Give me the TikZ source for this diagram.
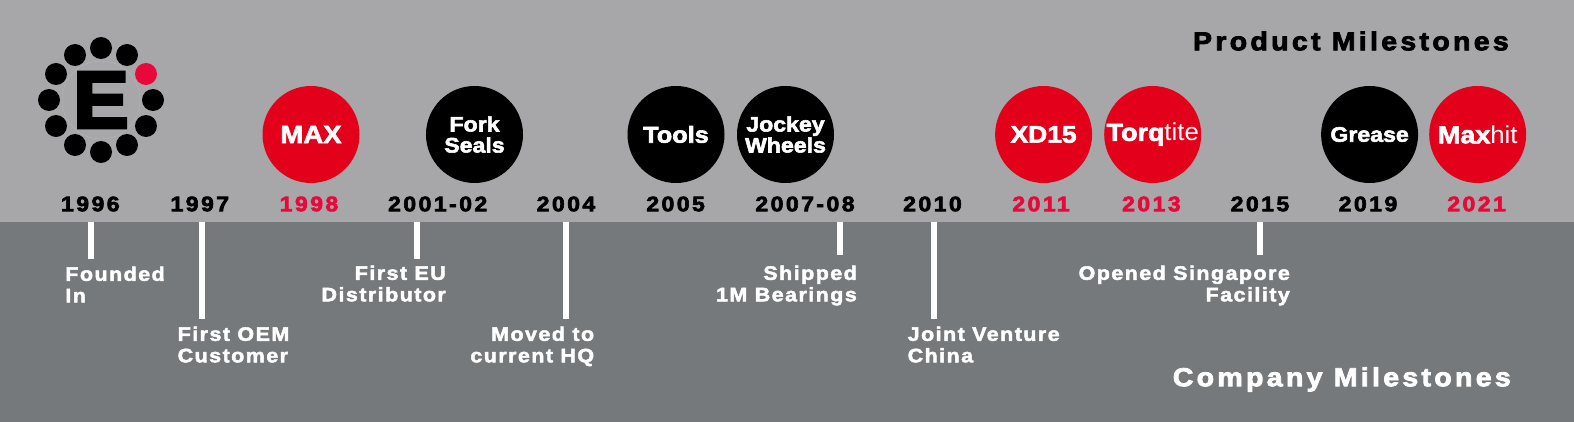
\documentclass[tikz,border=0pt]{standalone}
\usepackage{fontspec}
\setmainfont{Liberation Sans}
\newfontfamily\blackfont{Liberation Sans Bold}[FakeBold=2.6,FakeStretch=1.1]
\newfontfamily\logofont{Liberation Sans Bold}[FakeBold=4,FakeStretch=1.03]
\newfontfamily\yearfont{Liberation Sans Bold}[FakeBold=3,FakeStretch=1.1,LetterSpace=11.5]
\newfontfamily\notefont{Liberation Sans Bold}[FakeBold=2.4,FakeStretch=1.1,LetterSpace=7.5]
\newfontfamily\titlefont{Liberation Sans Bold}[FakeBold=3,FakeStretch=1.1,LetterSpace=12.5]
\newfontfamily\lightfont{Liberation Sans}[FakeStretch=1.05]
\usetikzlibrary{positioning}
\definecolor{bandtop}{HTML}{A7A7A9}
\definecolor{bandlow}{HTML}{76797C}
\definecolor{prodred}{HTML}{E2001A}
\definecolor{yearred}{HTML}{E8083A}
\tikzset{
    prodb/.style = {circle, minimum size=97pt, inner sep=0pt, align=center, fill=black, text=white, font=\blackfont\fontsize{21}{21}\selectfont},
    prodr/.style = {circle, minimum size=97pt, inner sep=0pt, align=center, fill=prodred, text=white, font=\blackfont\fontsize{24.5}{25}\selectfont},
    yearb/.style = {inner sep=0pt, text=black, font=\yearfont\fontsize{21}{24}\selectfont},
    yearr/.style = {inner sep=0pt, text=yearred, font=\yearfont\fontsize{21}{24}\selectfont},
    notel/.style = {inner sep=0pt, align=left, anchor=north west, text=white, font=\notefont\fontsize{19.5}{21.5}\selectfont},
    noter/.style = {inner sep=0pt, align=right, anchor=north east, text=white, font=\notefont\fontsize{19.5}{21.5}\selectfont},
    titleb/.style = {inner sep=0pt, anchor=east, text=black, font=\titlefont\fontsize{26}{27}\selectfont},
    titlew/.style = {inner sep=0pt, anchor=east, text=white, font=\titlefont\fontsize{26}{27}\selectfont},
    dotb/.style = {circle, minimum size=22pt, inner sep=0pt, fill=black},
    dotr/.style = {circle, minimum size=22pt, inner sep=0pt, fill=yearred},
    tick/.style = {-,line width=6pt,white}
}

\begin{document}
\begin{tikzpicture}[x=1pt,y=-1pt]
\useasboundingbox (0,0) rectangle (1574,422);
\fill[bandtop] (0,0) rectangle (1574,222);
\fill[bandlow] (0,222) rectangle (1574,422);
% logo
\node[circle, minimum size=78pt, inner sep=0pt, draw=bandtop!85!white, line width=0.5pt] at (101,100) (ering) {};
\node[inner sep=0pt, text=black, font=\logofont\fontsize{81}{81}\selectfont] at (101,100) (eletter) {E};
\node[dotb] at (101,48) (d1) {};
\node[dotb] at (127,55) (d2) {};
\node[dotr] at (146,74) (d3) {};
\node[dotb] at (153,100) (d4) {};
\node[dotb] at (146,126) (d5) {};
\node[dotb] at (127,145) (d6) {};
\node[dotb] at (101,152) (d7) {};
\node[dotb] at (75,145) (d8) {};
\node[dotb] at (56,126) (d9) {};
\node[dotb] at (49,100) (d10) {};
\node[dotb] at (56,74) (d11) {};
\node[dotb] at (75,55) (d12) {};
% product circles
\node[prodr] at (311,134.5) (max) {\fontsize{25}{25}\selectfont MAX};
\node[prodb] at (474.5,134.5) (fork) {Fork\\Seals};
\node[prodb] at (676,134.5) (tools) {\fontsize{23}{25}\selectfont Tools};
\node[prodb] at (785.5,134.5) (jockey) {Jockey\\Wheels};
\node[prodr] at (1043.6,134.5) (xd) {\fontsize{24}{25}\selectfont XD15};
\node[prodr] at (1152.7,134.5) (torq) {Torq{\lightfont tite}};
\node[prodb] at (1369.6,134.5) (grease) {Grease};
\node[prodr] at (1477.7,134.5) (maxhit) {Max{\lightfont hit}};
% years
\node[yearb] at (90.3,204) (y96) {1996};
\node[yearb] at (199.8,204) (y97) {1997};
\node[yearr] at (309,204) (y98) {1998};
\node[yearb] at (437.7,204) (y01) {2001-02};
\node[yearb] at (566,204) (y04) {2004};
\node[yearb] at (675.6,204) (y05) {2005};
\node[yearb] at (805,204) (y07) {2007-08};
\node[yearb] at (932.5,204) (y10) {2010};
\node[yearr] at (1041,204) (y11) {2011};
\node[yearr] at (1151.4,204) (y13) {2013};
\node[yearb] at (1260,204) (y15) {2015};
\node[yearb] at (1368,204) (y19) {2019};
\node[yearr] at (1476.6,204) (y21) {2021};
% company notes
\node[notel] at (65.2,266.5) (n96) {Founded\\In};
\node[notel] at (177.5,326.5) (n97) {First OEM\\Customer};
\node[noter] at (446,265.5) (n01) {First EU\\Distributor};
\node[noter] at (594.3,326.5) (n04) {Moved to\\current HQ};
\node[noter] at (857,265.5) (n07) {Shipped\\1M Bearings};
\node[notel] at (907.5,326.5) (n10) {Joint Venture\\China};
\node[noter] at (1290,265.5) (n15) {Opened Singapore\\Facility};
% ticks
\coordinate (a96) at (91.3,222);
\coordinate (b96) at (91.3,259);
\coordinate (a97) at (202.4,222);
\coordinate (b97) at (202.4,319);
\coordinate (a01) at (417,222);
\coordinate (b01) at (417,259);
\coordinate (a04) at (566,222);
\coordinate (b04) at (566,319);
\coordinate (a07) at (840,222);
\coordinate (b07) at (840,255);
\coordinate (a10) at (933.5,222);
\coordinate (b10) at (933.5,319);
\coordinate (a15) at (1260,222);
\coordinate (b15) at (1260,255);
\draw[tick] (a96) -- (b96);
\draw[tick] (a97) -- (b97);
\draw[tick] (a01) -- (b01);
\draw[tick] (a04) -- (b04);
\draw[tick] (a07) -- (b07);
\draw[tick] (a10) -- (b10);
\draw[tick] (a15) -- (b15);
% titles
\node[titleb] at (1509,41) (tprod) {Product Milestones};
\node[titlew] at (1511,379.5) (tcomp) {Company Milestones};
\end{tikzpicture}
\end{document}
